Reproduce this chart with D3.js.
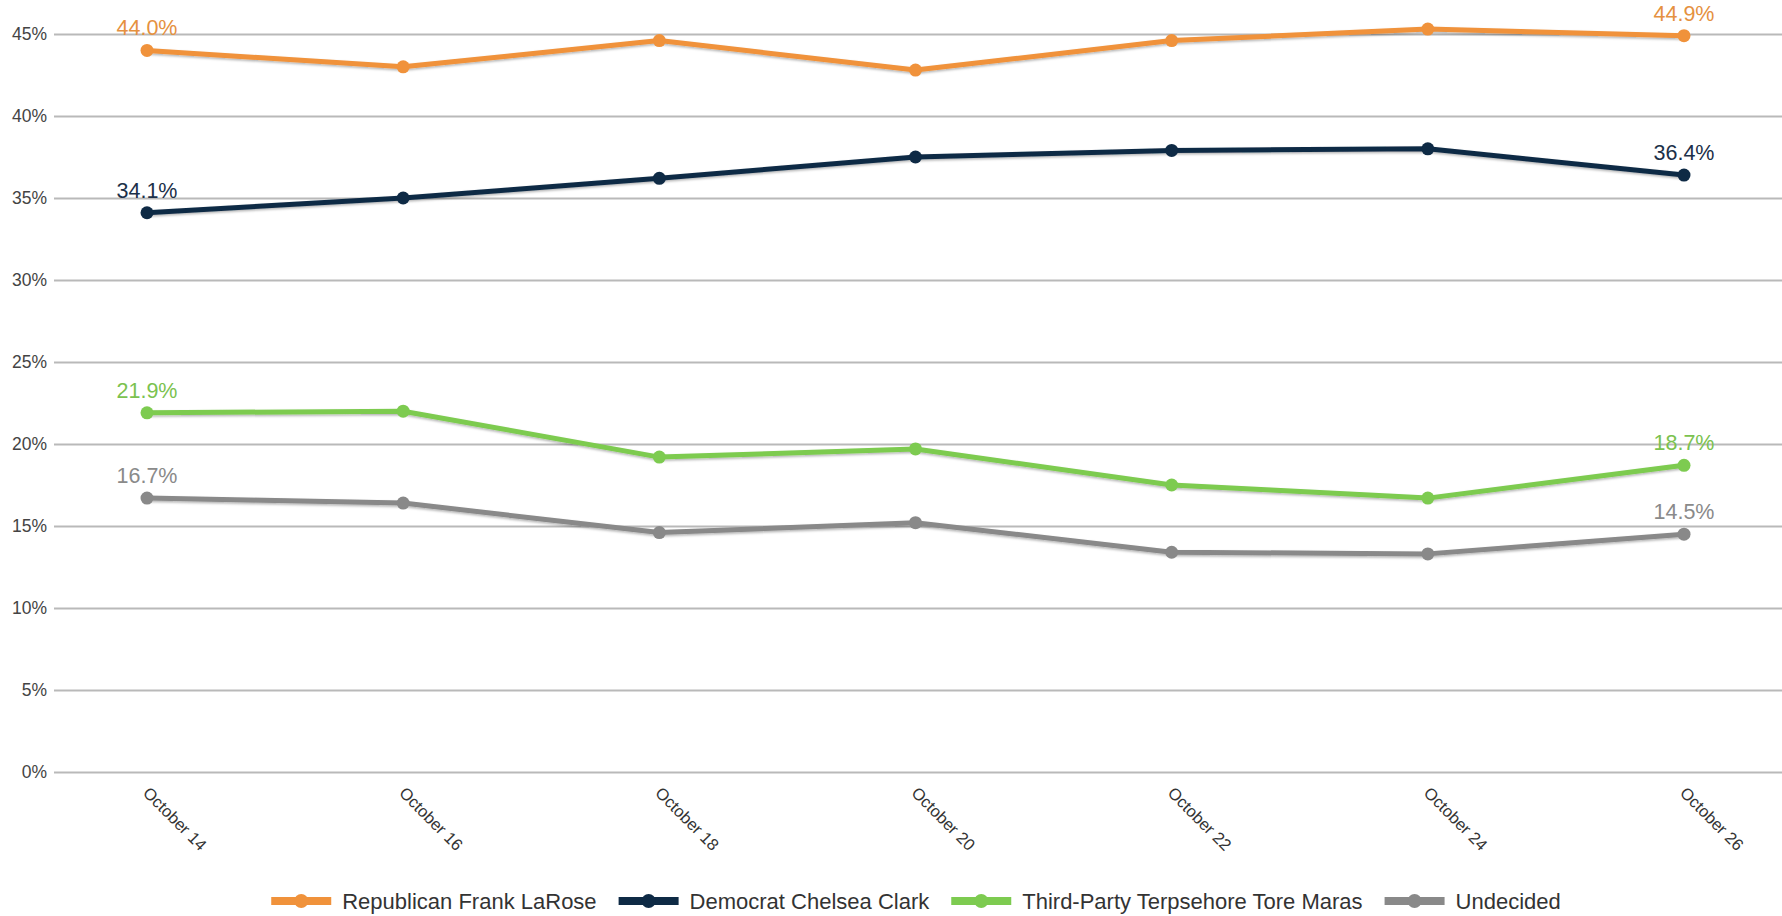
<!DOCTYPE html>
<html>
<head>
<meta charset="utf-8">
<script src="https://cdn.jsdelivr.net/npm/d3@7"></script>
<style>
  body { margin: 0; background: #fff; }
  svg { display: block; font-family: "Liberation Sans", Arial, sans-serif; }
</style>
</head>
<body>
<div id="viz"></div>
<script>
const dates = ['October 14', 'October 16', 'October 18', 'October 20', 'October 22', 'October 24', 'October 26'];
const seriesNames = ['Republican Frank LaRose', 'Democrat Chelsea Clark', 'Third-Party Terpsehore Tore Maras', 'Undecided'];
const republican = [44.0, 43.0, 44.6, 42.8, 44.6, 45.3, 44.9];
const democrat = [34.1, 35.0, 36.2, 37.5, 37.9, 38.0, 36.4];
const thirdParty = [21.9, 22.0, 19.2, 19.7, 17.5, 16.7, 18.7];
const undecided = [16.7, 16.4, 14.6, 15.2, 13.4, 13.3, 14.5];
const yTicks = [0, 5, 10, 15, 20, 25, 30, 35, 40, 45];

const lineColors = ['#F0923B', '#0E2A45', '#7DCB50', '#898989'];
const labelColors = ['#E5913F', '#1C3049', '#7BC24F', '#8A8A8A'];

function buildChart(containerId) {
    const width = 1782;
    const height = 916;

    const series = [republican, democrat, thirdParty, undecided].map((vals, i) => ({
        name: seriesNames[i],
        values: vals,
        color: lineColors[i],
        labelColor: labelColors[i]
    }));

    const svg = d3.select(containerId)
                  .append('svg')
                  .attr('width', width)
                  .attr('height', height);

    const defs = svg.append('defs');
    const shadow = defs.append('filter')
                       .attr('id', 'shadow')
                       .attr('x', '-5%').attr('y', '-50%')
                       .attr('width', '110%').attr('height', '200%');
    shadow.append('feDropShadow')
          .attr('dx', 0).attr('dy', 1.5)
          .attr('stdDeviation', 1)
          .attr('flood-color', '#000')
          .attr('flood-opacity', 0.3);

    const x = d3.scalePoint()
                .domain(dates)
                .range([147, 1684]);

    const y = d3.scaleLinear()
                .domain([0, 45])
                .range([772, 34]);

    // grid + y labels
    const yAxis = d3.axisLeft(y)
                    .tickValues(yTicks)
                    .tickSize(-(width - 54))
                    .tickPadding(7)
                    .tickFormat(d => d + '%');

    const yg = svg.append('g')
                  .attr('transform', 'translate(54,0)')
                  .call(yAxis);
    yg.select('.domain').remove();
    yg.selectAll('.tick line')
      .attr('stroke', '#b9b9b9')
      .attr('stroke-width', 2);
    yg.selectAll('.tick text')
      .attr('fill', '#444')
      .attr('font-size', 17.5)
      .attr('font-family', '"Liberation Sans", Arial, sans-serif');

    // x labels, rotated
    svg.append('g')
       .selectAll('text')
       .data(dates)
       .enter()
       .append('text')
       .attr('transform', d => 'translate(' + (x(d) - 5) + ',794) rotate(45)')
       .attr('fill', '#333')
       .attr('font-size', 16.5)
       .text(d => d);

    const line = d3.line()
                   .x((d, i) => x(dates[i]))
                   .y(d => y(d));

    const sg = svg.selectAll('.series')
                  .data(series.slice().reverse())
                  .enter()
                  .append('g')
                  .attr('class', 'series');

    sg.append('path')
      .attr('d', d => line(d.values))
      .attr('fill', 'none')
      .attr('stroke', d => d.color)
      .attr('stroke-width', 5)
      .attr('stroke-linejoin', 'round')
      .attr('filter', 'url(#shadow)');

    sg.selectAll('circle')
      .data(d => d.values.map((v, i) => ({ v: v, i: i, color: d.color })))
      .enter()
      .append('circle')
      .attr('cx', d => x(dates[d.i]))
      .attr('cy', d => y(d.v))
      .attr('r', 6.5)
      .attr('fill', d => d.color);

    // first and last point labels
    sg.selectAll('.val')
      .data(d => [0, d.values.length - 1].map(i => ({ v: d.values[i], i: i, color: d.labelColor })))
      .enter()
      .append('text')
      .attr('class', 'val')
      .attr('x', d => x(dates[d.i]))
      .attr('y', d => y(d.v) - 15)
      .attr('text-anchor', 'middle')
      .attr('font-size', 21.5)
      .attr('fill', d => d.color)
      .text(d => d.v.toFixed(1) + '%');

    // legend
    const legend = svg.append('g');
    const swatchW = 60;
    const gapText = 11;
    const gapItem = 22;
    let cx = 0;
    series.forEach(s => {
        const item = legend.append('g').attr('transform', 'translate(' + cx + ',0)');
        item.append('line')
            .attr('x1', 0).attr('x2', swatchW)
            .attr('y1', 0).attr('y2', 0)
            .attr('stroke', s.color)
            .attr('stroke-width', 8);
        item.append('circle')
            .attr('cx', swatchW / 2).attr('cy', 0)
            .attr('r', 7)
            .attr('fill', s.color);
        const t = item.append('text')
                      .attr('x', swatchW + gapText)
                      .attr('y', 0)
                      .attr('dy', '0.35em')
                      .attr('font-size', 22)
                      .attr('fill', '#333')
                      .text(s.name);
        cx += swatchW + gapText + t.node().getComputedTextLength() + gapItem;
    });
    const totalW = cx - gapItem;
    legend.attr('transform', 'translate(' + (916 - totalW / 2) + ',901)');
}

buildChart('#viz');
</script>
</body>
</html>
